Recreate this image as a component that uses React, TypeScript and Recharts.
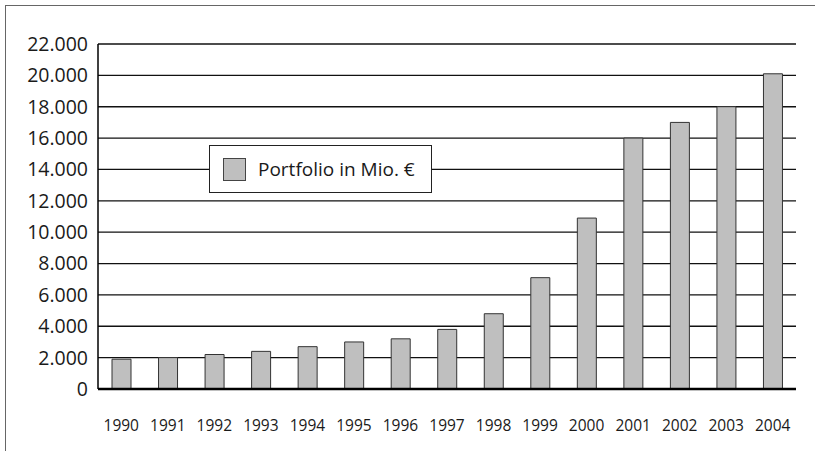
import React from 'react';
import { BarChart, Bar, XAxis, YAxis, CartesianGrid, Legend } from 'recharts';

const YEARS = ['1990', '1991', '1992', '1993', '1994', '1995', '1996', '1997', '1998', '1999', '2000', '2001', '2002', '2003', '2004'];
const PORTFOLIO = [1900, 2000, 2200, 2400, 2700, 3000, 3200, 3800, 4800, 7100, 10900, 16000, 17000, 18000, 20100];
const Y_TICKS = [0, 2000, 4000, 6000, 8000, 10000, 12000, 14000, 16000, 18000, 20000, 22000];
const SERIES_NAME = 'Portfolio in Mio. €';

const data = YEARS.map((year, i) => ({ year, value: PORTFOLIO[i] }));

const FONT = '"Open Sans", "Noto Sans", sans-serif';

// german thousands separator
const fmt = (v: number) => String(v).replace(/\B(?=(\d{3})+(?!\d))/g, '.');

function LegendBox() {
    return (
        <div
            style={{
                width: 221,
                height: 46,
                border: '1.5px solid #222',
                background: '#fff',
                display: 'flex',
                alignItems: 'center',
                fontFamily: FONT,
                fontSize: 19,
                color: '#1a1a1a',
                whiteSpace: 'nowrap',
            }}
        >
            <span style={{ width: 21, height: 21, background: '#bfbfbf', border: '1px solid #444', marginLeft: 13, marginRight: 12 }} />
            <span>{SERIES_NAME}</span>
        </div>
    );
}

export default function App() {
    return (
        <div style={{ position: 'absolute', left: 0, top: 0, width: 815, height: 451, overflow: 'hidden', background: '#fff' }}>
            <div style={{ position: 'absolute', left: 5, top: 5, width: 840, height: 480, border: '1.5px solid #666' }} />
            <div style={{ position: 'absolute', left: 0, top: 0 }}>
                <BarChart width={815} height={451} data={data} margin={{ top: 44, right: 19, bottom: 12, left: 0 }} barSize={19}>
                    <CartesianGrid vertical={false} stroke="#111" strokeWidth={1.3} />
                    <XAxis
                        dataKey="year"
                        stroke="#000"
                        strokeWidth={2.5}
                        tickLine={false}
                        tickMargin={25}
                        height={50}
                        interval={0}
                        tick={{ fill: '#1a1a1a', fontSize: 15.5, fontFamily: FONT }}
                    />
                    <YAxis
                        width={98}
                        domain={[0, 22000]}
                        ticks={Y_TICKS}
                        tickFormatter={fmt}
                        stroke="#000"
                        strokeWidth={1.5}
                        tickLine={false}
                        tickMargin={4}
                        interval={0}
                        tick={{ fill: '#1a1a1a', fontSize: 19.5, fontFamily: FONT }}
                    />
                    <Legend
                        layout="horizontal"
                        verticalAlign="middle"
                        align="center"
                        content={() => <LegendBox />}
                        wrapperStyle={{ left: 209, top: 145, width: 'auto' }}
                    />
                    <Bar dataKey="value" name={SERIES_NAME} fill="#bfbfbf" stroke="#333" strokeWidth={1} isAnimationActive={false} />
                </BarChart>
            </div>
        </div>
    );
}
